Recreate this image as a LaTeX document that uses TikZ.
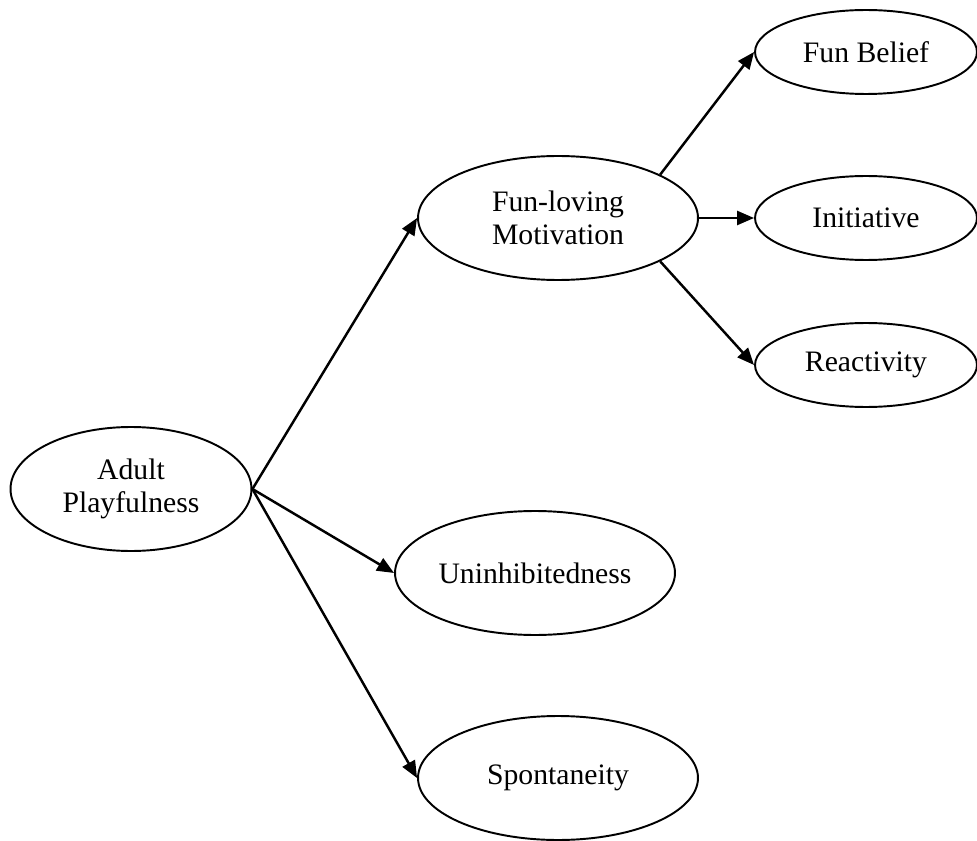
\documentclass[tikz,border=0pt]{standalone}
\usepackage{fontspec}
\setmainfont{Liberation Serif}
\usetikzlibrary{shapes.geometric,arrows.meta}
\begin{document}
\begin{tikzpicture}[x=0.02cm, y=-0.02cm,
		factor/.style={draw, black, line width=1.1pt, ellipse, inner sep=0pt, align=center,
			font=\fontsize{16.9pt}{18.8pt}\selectfont},
		bigfactor/.style={factor, minimum width=5.6cm, minimum height=2.48cm},
		smallfactor/.style={factor, minimum width=4.44cm, minimum height=1.68cm},
		link/.style={black, line width=1.4pt, -{Triangle[length=0.34cm, width=0.28cm]}}]
		\useasboundingbox (0, 0) rectangle (977, 841);
		\node[factor, minimum width=4.82cm, minimum height=2.48cm] (adult) at (131, 489) {Adult\\Playfulness};
		\node[bigfactor] (funloving) at (558, 218) {Fun-loving\\Motivation};
		\node[bigfactor] (uninhib) at (535, 573) {Uninhibitedness};
		\node[bigfactor] (spont) at (558, 778) {Spontaneity};
		\node[smallfactor] (belief) at (866, 52) {Fun Belief};
		\node[smallfactor] (initiative) at (866, 218) {Initiative};
		\node[smallfactor] (reactivity) at (866, 365) {Reactivity};
		\draw[link] (adult.east) -- (funloving.west);
		\draw[link] (adult.east) -- (uninhib.west);
		\draw[link] (adult.east) -- (spont.west);
		\draw[link] (funloving.23) -- (belief.west);
		\draw[link] (funloving.east) -- (initiative.west);
		\draw[link] (funloving.-23) -- (reactivity.west);
	\end{tikzpicture}
\end{document}
